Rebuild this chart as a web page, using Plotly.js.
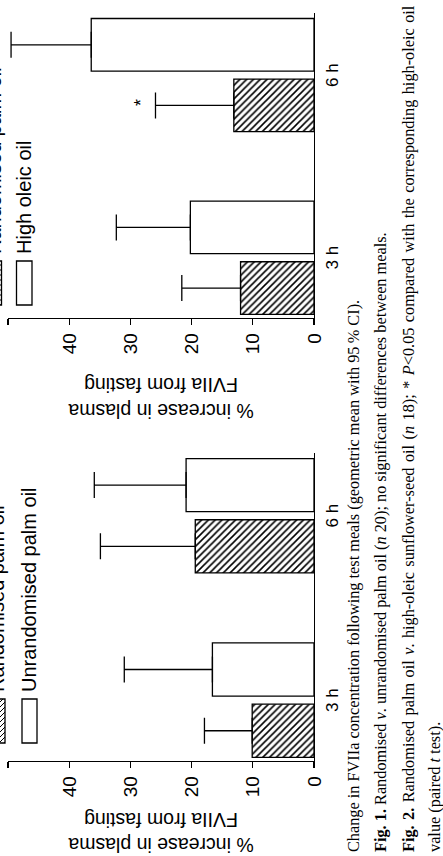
<!DOCTYPE html>
<html>
<head>
<meta charset="utf-8">
<script src="https://cdn.plot.ly/plotly-3.0.1.min.js"></script>
<style>
  html, body { margin: 0; padding: 0; width: 443px; height: 856px; overflow: hidden; background: #fff; }
  #chart { position: absolute; left: 0; top: 0; width: 856px; height: 443px; }
</style>
</head>
<body>
<div id="chart"></div>
<script>
// ---- data ----
const categories = ['3 h', '6 h'];
const yTickVals = [0, 10, 20, 30, 40, 50];

// Fig. 1: randomised v. unrandomised palm oil
const fig1Randomised = [10.1, 19.4];
const fig1RandomisedUpperCI = [17.9, 34.9];
const fig1Unrandomised = [16.6, 20.9];
const fig1UnrandomisedUpperCI = [31.0, 35.9];

// Fig. 2: randomised palm oil v. high-oleic sunflower-seed oil
const fig2Randomised = [12.0, 13.1];
const fig2RandomisedUpperCI = [21.6, 25.9];
const fig2HighOleic = [20.2, 36.4];
const fig2HighOleicUpperCI = [32.3, 49.5];

const legend1 = ['Randomised palm oil', 'Unrandomised palm oil'];
const legend2 = ['Randomised palm oil', 'High oleic oil'];

const yTitle = '% increase in plasma<br>FVIIa from fasting';
const HS = ' \u200A'; // space + hair space (justified line)
const captionLines = [
  'Change in FVIIa concentration following test meals (geometric mean with 95\u2009% CI).',
  '<b>Fig. 1.</b> Randomised <i>v</i>. unrandomised palm oil (<i>n</i> 20); no significant differences between meals.',
  ['<b>Fig.', '2.</b>', 'Randomised', 'palm', 'oil', '<i>v</i>.', 'high-oleic', 'sunflower-seed', 'oil',
   '(<i>n</i>', '18);', '*', '<i>P</i>&lt;0.05', 'compared', 'with', 'the', 'corresponding', 'high-oleic', 'oil'].join(HS),
  'value (paired <i>t</i> test).'
];

// ---- geometry / style ----
const W = 856, H = 443;
const M = {l: 0, r: 0, t: 8, b: 129};
const plotH = H - M.t - M.b;
const px2x = px => px / W;
const px2y = py => (H - M.b - py) / plotH;

const sansFont = 'Liberation Sans, Arial, Helvetica, sans-serif';
const serifFont = 'Liberation Serif, Times New Roman, serif';
const lw = 1.3;
const barW = 0.288;
const offR = -0.31, offO = 0.022;

function diff(a, b) { return a.map((v, i) => v - b[i]); }

function barTrace(vals, upper, xa, ya, hatched, name, offset) {
  return {
    type: 'bar', x: categories, y: vals, name: name,
    xaxis: xa, yaxis: ya, width: barW, offset: offset,
    showlegend: false, hoverinfo: 'skip',
    marker: {
      color: '#ffffff',
      line: {color: '#000', width: lw},
      pattern: hatched ? {shape: '\\', size: 4.8, solidity: 0.33, fgcolor: '#000', bgcolor: '#fff'} : {shape: ''}
    },
    error_y: {
      type: 'data', symmetric: false,
      array: diff(upper, vals), arrayminus: vals.map(() => 0),
      color: '#000', thickness: lw, width: 13
    }
  };
}

const data = [
  barTrace(fig1Randomised, fig1RandomisedUpperCI, 'x', 'y', true, legend1[0], offR),
  barTrace(fig1Unrandomised, fig1UnrandomisedUpperCI, 'x', 'y', false, legend1[1], offO),
  barTrace(fig2Randomised, fig2RandomisedUpperCI, 'x2', 'y2', true, legend2[0], offR),
  barTrace(fig2HighOleic, fig2HighOleicUpperCI, 'x2', 'y2', false, legend2[1], offO)
];

function xAxis(domain, anchor) {
  return {
    domain: domain, anchor: anchor, type: 'category', range: [-0.33, 1.34],
    showline: true, linecolor: '#000', linewidth: lw, ticks: '',
    showgrid: false, zeroline: false, fixedrange: true,
    tickfont: {family: sansFont, size: 17, color: '#000'},
    ticklabelstandoff: 2
  };
}
function yAxis(anchor, standoff) {
  return {
    anchor: anchor, domain: [0, 1], range: [0, 50],
    tickmode: 'array', tickvals: yTickVals, ticktext: yTickVals.map(String),
    showline: true, linecolor: '#000', linewidth: lw,
    ticks: 'outside', ticklen: 6, tickwidth: lw, tickcolor: '#000',
    showgrid: false, zeroline: false, fixedrange: true,
    tickfont: {family: sansFont, size: 19, color: '#000'},
    ticklabelstandoff: 4,
    title: {text: yTitle, font: {family: sansFont, size: 19.5, color: '#000'}, standoff: standoff}
  };
}

// legend drawn as decorations (boxes + labels)
const shapes = [];
const annotations = [];
function hatchPath(w, h, s) {
  let p = '';
  for (let c = -h + 1; c < w; c += s) {
    const y0 = Math.max(0, -c), y1 = Math.min(h, w - c);
    if (y1 <= y0) continue;
    p += 'M' + (y0 + c) + ',' + (-y0) + 'L' + (y1 + c) + ',' + (-y1);
  }
  return p;
}
function legendEntry(x0, yTop, w, h, hatched, label) {
  shapes.push({type: 'rect', xref: 'paper', yref: 'paper',
    x0: px2x(x0), x1: px2x(x0 + w), y0: px2y(yTop), y1: px2y(yTop + h),
    line: {color: '#000', width: lw}, fillcolor: '#fff', layer: 'above'});
  if (hatched) {
    shapes.push({type: 'path', xref: 'paper', yref: 'paper',
      xsizemode: 'pixel', ysizemode: 'pixel', xanchor: px2x(x0), yanchor: px2y(yTop),
      path: hatchPath(w, h, 5), line: {color: '#000', width: 1}, layer: 'above'});
  }
  annotations.push({xref: 'paper', yref: 'paper', x: px2x(x0 + w + 5), y: px2y(yTop + h / 2),
    xanchor: 'left', yanchor: 'middle', showarrow: false, text: label,
    font: {family: sansFont, size: 20, color: '#000'}});
}
legendEntry(113, -10, 44, 15, true, legend1[0]);
legendEntry(113, 22, 44, 15, false, legend1[1]);
legendEntry(551, -14, 44, 15.5, true, legend2[0]);
legendEntry(551, 16.5, 44, 15.5, false, legend2[1]);

// significance marker
annotations.push({xref: 'x2', yref: 'y2', x: categories[1], y: 29, xshift: -27, yshift: -4,
  text: '*', showarrow: false, font: {family: sansFont, size: 18, color: '#000'}});

// caption lines
const capBase = [353, 380.5, 408, 434];
captionLines.forEach((t, i) => {
  annotations.push({xref: 'paper', yref: 'paper', x: px2x(2), y: px2y(capBase[i]),
    xanchor: 'left', yanchor: 'middle', showarrow: false, text: t,
    font: {family: serifFont, size: 16.3, color: '#000'}});
});

const layout = {
  width: W, height: H, margin: M,
  paper_bgcolor: '#fff', plot_bgcolor: 'rgba(0,0,0,0)',
  showlegend: false, barmode: 'overlay',
  xaxis: xAxis([px2x(95), px2x(403)], 'y'),
  yaxis: yAxis('x', 18),
  xaxis2: xAxis([px2x(538), px2x(843)], 'y2'),
  yaxis2: yAxis('x2', 18),
  shapes: shapes, annotations: annotations
};

Plotly.newPlot('chart', data, layout, {staticPlot: true, displayModeBar: false}).then(() => {
  const el = document.getElementById('chart');
  el.style.transformOrigin = '0 0';
  el.style.transform = 'translate(0px, 856px) rotate(-90deg)';
});
</script>
</body>
</html>
